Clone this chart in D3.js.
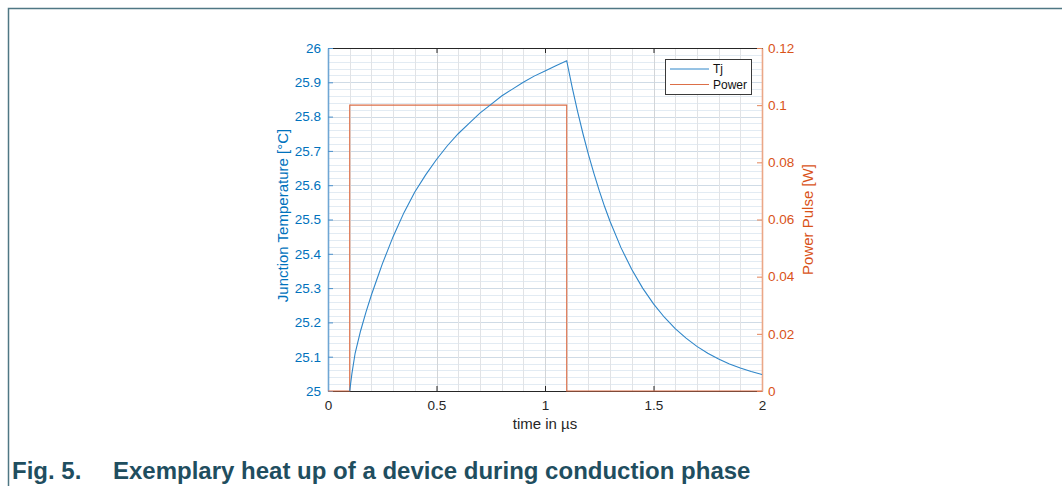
<!DOCTYPE html>
<html>
<head>
<meta charset="utf-8">
<script src="https://cdn.jsdelivr.net/npm/d3@7"></script>
<style>
body { margin: 0; background: #fff; }
text { font-family: "Liberation Sans", Arial, sans-serif; }
</style>
</head>
<body>
<div id="chart"></div>
<script>
// junction temperature
var tjTime = [0.100, 0.110, 0.125, 0.150, 0.175, 0.200, 0.225, 0.250, 0.275, 0.300, 0.350, 0.400,
    0.450, 0.500, 0.550, 0.600, 0.650, 0.700, 0.750, 0.800, 0.850, 0.900, 0.950, 1.000, 1.050, 1.100,
    1.125, 1.150, 1.175, 1.200, 1.225, 1.250, 1.275, 1.300, 1.350, 1.400, 1.450, 1.500, 1.550,
    1.600, 1.650, 1.700, 1.750, 1.800, 1.850, 1.900, 1.950, 2.000];
var tjValue = [25.000, 25.050, 25.110, 25.175, 25.230, 25.280, 25.325, 25.370, 25.410, 25.450, 25.520,
    25.580, 25.630, 25.675, 25.715, 25.750, 25.780, 25.810, 25.835, 25.860, 25.880, 25.900, 25.918,
    25.933, 25.948, 25.963,
    25.886, 25.815, 25.750, 25.690, 25.635, 25.584, 25.537, 25.494, 25.418, 25.354, 25.300, 25.254,
    25.215, 25.182, 25.154, 25.130, 25.110, 25.093, 25.079, 25.067, 25.057, 25.048];

// power pulse
var powerTime = [0, 0.1, 0.1, 1.1, 1.1, 2];
var powerValue = [0, 0, 0.1, 0.1, 0, 0];

var xTicks = [0, 0.5, 1, 1.5, 2];
var leftTicks = [25, 25.1, 25.2, 25.3, 25.4, 25.5, 25.6, 25.7, 25.8, 25.9, 26];
var rightTicks = [0, 0.02, 0.04, 0.06, 0.08, 0.1, 0.12];
var legendLabels = ["Tj", "Power"];

var blue = "#0072BD", orange = "#D95319";
var W = 1062, H = 486;
var margin = { top: 48, right: 300, bottom: 95, left: 328 };
var width = W - margin.left - margin.right;
var height = H - margin.top - margin.bottom;

var svg = d3.select("#chart").append("svg")
    .attr("width", W)
    .attr("height", H);

// page frame (top and left rule)
svg.append("path")
    .attr("d", "M8.5," + H + "V8.5H" + W)
    .attr("fill", "none")
    .attr("stroke", "#4f7784")
    .attr("stroke-width", 1.5);

var g = svg.append("g")
    .attr("transform", "translate(" + margin.left + "," + margin.top + ")");

var x = d3.scaleLinear().domain([0, 2]).range([0, width]);
var yL = d3.scaleLinear().domain([25, 26]).range([height, 0]);
var yR = d3.scaleLinear().domain([0, 0.12]).range([height, 0]);

// grid: minor then major
var gridX = x.ticks(20), gridY = yL.ticks(50);
g.append("g").selectAll("line").data(gridY).enter().append("line")
    .attr("x1", 0).attr("x2", width)
    .attr("y1", function (d) { return Math.round(yL(d)) + 0.5; })
    .attr("y2", function (d) { return Math.round(yL(d)) + 0.5; })
    .attr("stroke", function (d) { return leftTicks.some(function (t) { return Math.abs(t - d) < 1e-9; }) ? "#cfdbe6" : "#e2ebf3"; });
g.append("g").selectAll("line").data(gridX).enter().append("line")
    .attr("y1", 0).attr("y2", height)
    .attr("x1", function (d) { return Math.round(x(d)) + 0.5; })
    .attr("x2", function (d) { return Math.round(x(d)) + 0.5; })
    .attr("stroke", function (d) { return xTicks.indexOf(+d.toFixed(1)) >= 0 ? "#d2d5d8" : "#e1e3e6"; });

// axes
var fmt1 = function (d) { return +d.toFixed(1); };
var fmt2 = function (d) { return +d.toFixed(2); };

var gTop = g.append("g")
    .call(d3.axisTop(x).tickValues(xTicks).tickSize(-5).tickFormat(""));
var gBottom = g.append("g")
    .attr("transform", "translate(0," + height + ")")
    .call(d3.axisBottom(x).tickValues(xTicks).tickSizeInner(-5).tickSizeOuter(0).tickPadding(9).tickFormat(fmt1));
[gTop, gBottom].forEach(function (a) {
    a.select(".domain").attr("stroke", "#262626");
    a.selectAll(".tick line").attr("stroke", "#262626");
    a.selectAll("text").attr("fill", "#262626").style("font-size", "13.5px");
});

var gLeft = g.append("g")
    .call(d3.axisLeft(yL).tickValues(leftTicks).tickSizeInner(-5).tickSizeOuter(0).tickPadding(7).tickFormat(fmt1));
gLeft.select(".domain").attr("stroke", "#6fa6d4").attr("stroke-width", 1.6);
gLeft.selectAll(".tick line").attr("stroke", "#4d92cc");
gLeft.selectAll("text").attr("fill", blue).style("font-size", "13.5px");

var gRight = g.append("g")
    .attr("transform", "translate(" + width + ",0)")
    .call(d3.axisRight(yR).tickValues(rightTicks).tickSizeInner(-5).tickSizeOuter(0).tickPadding(6).tickFormat(fmt2));
gRight.select(".domain").attr("stroke", "#eba787").attr("stroke-width", 1.6);
gRight.selectAll(".tick line").attr("stroke", "#e3855a");
gRight.selectAll("text").attr("fill", orange).style("font-size", "13.5px");

// axis labels
g.append("text")
    .attr("transform", "translate(" + (width / 2) + "," + (height + 38) + ")")
    .style("text-anchor", "middle")
    .style("font-size", "15px")
    .attr("fill", "#262626")
    .text("time in µs");
g.append("text")
    .attr("transform", "translate(-40," + (height / 2 - 4) + ") rotate(-90)")
    .style("text-anchor", "middle")
    .style("font-size", "15px")
    .attr("fill", blue)
    .text("Junction Temperature [°C]");
g.append("text")
    .attr("transform", "translate(" + (width + 51) + "," + (height / 2) + ") rotate(-90)")
    .style("text-anchor", "middle")
    .style("font-size", "15px")
    .attr("fill", orange)
    .text("Power Pulse [W]");

// series
var tjLine = d3.line()
    .x(function (d, i) { return x(tjTime[i]); })
    .y(function (d) { return yL(d); });
var powerLine = d3.line()
    .x(function (d, i) { return x(powerTime[i]); })
    .y(function (d) { return yR(d); });

g.append("path")
    .datum(powerValue)
    .attr("fill", "none")
    .attr("stroke", "#dc6f48")
    .attr("stroke-width", 1.1)
    .attr("d", powerLine);
g.append("path")
    .datum(tjValue)
    .attr("fill", "none")
    .attr("stroke", "#2f86c9")
    .attr("stroke-width", 1.1)
    .attr("d", tjLine);

// legend
var legend = g.append("g")
    .attr("transform", "translate(" + (width - 97) + ",11)");
legend.append("rect")
    .attr("x", 0.5).attr("y", 0.5)
    .attr("width", 86).attr("height", 35)
    .attr("fill", "#fff")
    .attr("stroke", "#3a3a3a");
var legendColors = ["#2f86c9", "#dc6f48"];
legendLabels.forEach(function (lab, i) {
    var yy = 10 + i * 15.5;
    legend.append("line")
        .attr("x1", 5).attr("x2", 44)
        .attr("y1", yy).attr("y2", yy)
        .attr("stroke", legendColors[i]);
    legend.append("text")
        .attr("x", 48).attr("y", yy + 4)
        .style("font-size", "12px")
        .attr("fill", "#111")
        .text(lab);
});

// caption
var cap = svg.append("text")
    .attr("y", 479)
    .attr("fill", "#1f4e5f")
    .style("font-size", "24px")
    .style("font-weight", "bold");
cap.append("tspan").attr("x", 12).text("Fig. 5.");
cap.append("tspan").attr("x", 113).text("Exemplary heat up of a device during conduction phase");
</script>
</body>
</html>
